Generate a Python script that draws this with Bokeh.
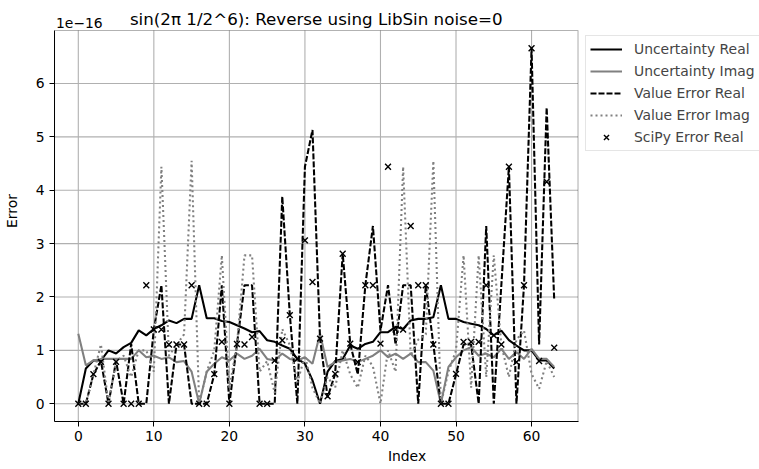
import numpy as np
from bokeh.plotting import figure
from bokeh.models import Legend, LegendItem, FixedTicker, Range1d, Label, BoxAnnotation
from bokeh.embed import file_html
from bokeh.resources import INLINE

index = list(range(64))
unc_real = [0, 0.66, 0.81, 0.81, 1.0, 0.94, 1.06, 1.14, 1.375, 1.28, 1.4, 1.47, 1.56, 1.51, 1.59, 1.59,
            2.22, 1.6, 1.6, 1.55, 1.53, 1.47, 1.41, 1.34, 1.36, 1.19, 1.16, 1.09, 1.03, 0.84, 0.75, 0.44,
            0, 0.6, 0.8, 0.84, 1.09, 1.03, 1.12, 1.16, 1.34, 1.34, 1.44, 1.4, 1.56, 1.59, 1.59, 1.62,
            2.22, 1.59, 1.59, 1.53, 1.5, 1.47, 1.4, 1.28, 1.37, 1.19, 1.09, 1.0, 1.0, 0.81, 0.81, 0.66]
unc_imag = [1.31, 0.72, 0.81, 0.84, 0.84, 0.84, 0.84, 0.84, 1.0, 0.87, 0.9, 0.84, 0.87, 0.78, 0.8, 0.6,
            0, 0.6, 0.75, 0.87, 0.81, 0.94, 0.84, 0.9, 1.03, 0.84, 0.81, 0.94, 0.84, 0.81, 0.87, 0.75,
            1.31, 0.69, 0.78, 0.81, 0.84, 0.78, 0.84, 0.9, 1.0, 0.87, 0.94, 0.84, 0.94, 0.78, 0.78, 0.62,
            0, 0.69, 0.87, 1.0, 1.06, 0.9, 0.94, 0.87, 1.03, 0.84, 0.97, 0.84, 1.03, 0.84, 0.84, 0.69]
val_err_real = [0, 0, 0.55, 0.8, 0, 0.8, 0, 1.12, 0, 0, 1.39, 2.22, 0, 1.11, 1.11, 0,
                0, 0, 0.55, 2.22, 0, 1.11, 2.22, 2.22, 0, 0, 0, 3.88, 1.67, 0, 4.44, 5.13,
                1.22, 0.12, 0.56, 2.81, 1.12, 0.55, 2.22, 3.33, 1.37, 2.22, 1.11, 2.22, 2.22, 0, 2.22, 1.11,
                0, 0, 0.55, 1.11, 1.11, 0, 3.33, 0, 2.22, 4.44, 0, 2.22, 6.66, 1.11, 5.55, 1.94]
val_err_imag = [0, 0, 0.55, 1.11, 0, 0.8, 0.9, 0.5, 1.0, 1.0, 0.6, 4.44, 0.9, 1.1, 1.3, 4.55,
                0, 0.6, 1.0, 2.78, 0.3, 1.1, 2.78, 2.78, 0.6, 0.8, 0.2, 1.4, 1.1, 0.4, 0.9, 0.3,
                0, 0.5, 0.3, 1.0, 0.55, 0.3, 0.9, 0.7, 0, 1.0, 0.6, 4.44, 0.9, 1.2, 1.3, 4.55,
                0, 0.6, 1.0, 2.78, 0.3, 2.78, 0.5, 2.78, 1.1, 0.5, 1.2, 1.37, 0.56, 0.28, 0.8, 0.5]
scipy_err_real = [0, 0, 0.555, 0.785, 0, 0.785, 0, 0, 0, 2.22, 1.39, 1.39, 1.11, 1.11, 1.11, 2.22,
                  0, 0, 0.555, 1.16, 0, 1.12, 1.11, 1.25, 0, 0, 0.81, 1.19, 1.66, 0.84, 3.06, 2.28,
                  1.22, 0.14, 0.56, 2.81, 1.125, 0.78, 2.22, 2.22, 1.125, 4.44, 1.39, 1.39, 3.33, 2.22, 2.22, 1.11,
                  0, 0, 0.56, 1.16, 1.16, 1.16, 2.22, 1.28, 1.11, 4.44, 0.78, 2.22, 6.66, 0.8, 4.16, 1.05]
x_ticks = [0, 10, 20, 30, 40, 50, 60]
y_ticks = [0, 1, 2, 3, 4, 5, 6]
title_text = "sin(2\u03c0 1/2^6): Reverse using LibSin noise=0"
offset_text = "1e\u221216"

FONT = "DejaVu Sans"

# axes box (data limits) and pixel geometry
XMIN, XMAX = -3.15, 66.15
YMIN, YMAX = -0.333, 6.993
W, H = 759, 469
LEFT, BOTTOM = 52, 48
BOX_W, BOX_H = 525, 391
sx = BOX_W / (XMAX - XMIN)
sy = BOX_H / (YMAX - YMIN)
frame_w = W - LEFT
frame_h = H - BOTTOM
x_end = XMIN + frame_w / sx
y_end = YMIN + frame_h / sy

p = figure(width=W, height=H, output_backend="svg", toolbar_location=None,
           x_range=Range1d(XMIN, x_end), y_range=Range1d(YMIN, y_end),
           min_border_left=LEFT, min_border_right=0, min_border_top=0, min_border_bottom=BOTTOM)
p.title.text = ""
p.outline_line_color = None
p.xgrid.visible = False
p.ygrid.visible = False

# grid lines restricted to the axes box
p.segment(x0=x_ticks, x1=x_ticks, y0=[YMIN] * len(x_ticks), y1=[YMAX] * len(x_ticks),
          line_color="#b0b0b0", line_width=1.1, level="underlay")
p.segment(x0=[XMIN] * len(y_ticks), x1=[XMAX] * len(y_ticks), y0=y_ticks, y1=y_ticks,
          line_color="#b0b0b0", line_width=1.1, level="underlay")

l1 = p.line(index, unc_real, line_color="black", line_width=2.08)
l2 = p.line(index, unc_imag, line_color="gray", line_width=2.08)
l3 = p.line(index, val_err_real, line_color="black", line_width=2.08, line_dash="6 2")
l4 = p.line(index, val_err_imag, line_color="gray", line_width=2.08, line_dash="2 3")
s1 = p.scatter(index, scipy_err_real, marker="x", size=8.3, line_color="black", line_width=1.4)

p.add_layout(BoxAnnotation(left=XMIN, right=XMAX, bottom=YMIN, top=YMAX,
                           fill_alpha=0, line_color="black", line_width=1.1))

for ax in (p.xaxis[0], p.yaxis[0]):
    ax.major_label_text_font = FONT
    ax.major_label_text_font_size = "13.9px"
    ax.axis_label_text_font = FONT
    ax.axis_label_text_font_size = "13.9px"
    ax.axis_label_text_font_style = "normal"
    ax.major_tick_out = 5
    ax.major_tick_in = 0
    ax.minor_tick_line_color = None
    ax.axis_line_color = "black"
    ax.major_tick_line_color = "black"
    ax.major_label_text_color = "black"
    ax.axis_label_text_color = "black"

p.xaxis.ticker = FixedTicker(ticks=x_ticks)
p.yaxis.ticker = FixedTicker(ticks=y_ticks)
p.xaxis.bounds = (XMIN, XMAX)
p.yaxis.bounds = (YMIN, YMAX)
p.xaxis.axis_label = "Index"
p.yaxis.axis_label = "Error"
p.xaxis.major_label_standoff = 4
p.xaxis.axis_label_standoff = 4
p.yaxis.major_label_standoff = 5
p.yaxis.axis_label_standoff = 13

# title and offset text above the axes box
p.add_layout(Label(x=(XMIN + XMAX) / 2, y=y_end - 18 / sy, text=title_text,
                   text_align="center", text_baseline="alphabetic",
                   text_font=FONT, text_font_size="16.7px", text_color="black"))
p.add_layout(Label(x=XMIN + 1.5 / sx, y=y_end - 22 / sy, text=offset_text,
                   text_align="left", text_baseline="alphabetic",
                   text_font=FONT, text_font_size="13.9px", text_color="black"))

legend = Legend(items=[
    LegendItem(label="Uncertainty Real", renderers=[l1]),
    LegendItem(label="Uncertainty Imag", renderers=[l2]),
    LegendItem(label="Value Error Real", renderers=[l3]),
    LegendItem(label="Value Error Imag", renderers=[l4]),
    LegendItem(label="SciPy Error Real", renderers=[s1]),
], location=(531, 270))
legend.label_text_font = FONT
legend.label_text_font_size = "13.9px"
legend.label_height = 18
legend.glyph_height = 18
legend.glyph_width = 32
legend.label_standoff = 12
legend.spacing = 4
legend.padding = 4
legend.margin = 0
legend.border_line_color = "#cccccc"
legend.border_line_width = 1
legend.background_fill_alpha = 0.8
p.add_layout(legend)

open("out.html", "w").write(file_html(p, INLINE))
